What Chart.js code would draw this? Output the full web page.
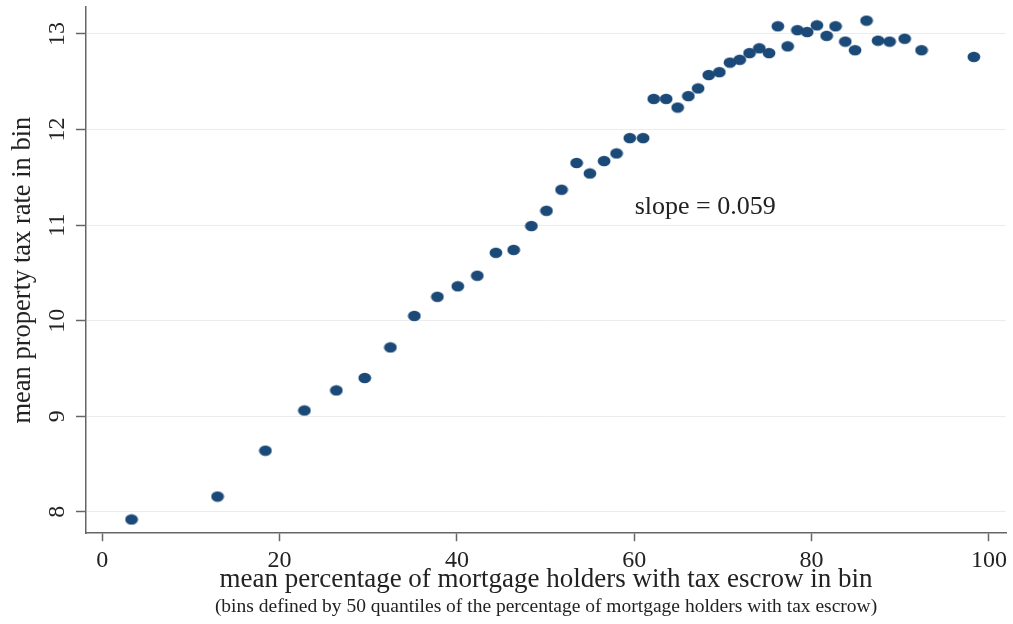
<!DOCTYPE html>
<html lang="en">
<head>
    <meta charset="utf-8"/>
    <title>Property tax rate vs tax escrow</title>
    <style>
        * {
          padding: 0;
          margin: 0;
          box-sizing: border-box;
        }

        body {
            background: #ffffff;
        }

        .container {
          width: 1013px;
          height: 624px;
        }
    </style>
</head>
<body>
    <div class="container">
        <canvas id="data-set" width="1013" height="624"></canvas>
    </div>
    <script src="https://cdn.jsdelivr.net/npm/chart.js@4.4.0/dist/chart.umd.min.js"></script>
    <script>
        // mean percentage of mortgage holders with tax escrow (per bin)
        const escrowPct = [
            3.3, 13.0, 18.4, 22.8, 26.4, 29.6, 32.5, 35.2, 37.8, 40.1,
            42.3, 44.4, 46.4, 48.4, 50.1, 51.8, 53.5, 55.0, 56.6, 58.0,
            59.5, 61.0, 62.2, 63.6, 64.9, 66.1, 67.2, 68.4, 69.6, 70.8,
            71.9, 73.0, 74.1, 75.2, 76.2, 77.3, 78.4, 79.5, 80.6, 81.7,
            82.7, 83.8, 84.9, 86.2, 87.5, 88.8, 90.5, 92.4, 98.3
        ];
        // mean property tax rate (per bin)
        const taxRate = [
            7.92, 8.16, 8.64, 9.06, 9.27, 9.40, 9.72, 10.05, 10.25, 10.36,
            10.47, 10.71, 10.74, 10.99, 11.15, 11.37, 11.65, 11.54, 11.67, 11.75,
            11.91, 11.91, 12.32, 12.32, 12.23, 12.35, 12.43, 12.57, 12.60, 12.70,
            12.73, 12.80, 12.85, 12.80, 13.08, 12.87, 13.04, 13.02, 13.09, 12.98,
            13.08, 12.92, 12.83, 13.14, 12.93, 12.92, 12.95, 12.83, 12.76
        ];

        const xTicks = [0, 20, 40, 60, 80, 100];
        const yTicks = [8, 9, 10, 11, 12, 13];

        const slopeText = "slope = 0.059";
        const slopeAt = { x: 68, y: 11.19 };

        const xTitle = "mean percentage of mortgage holders with tax escrow in bin";
        const xNote = "(bins defined by 50 quantiles of the percentage of mortgage holders with tax escrow)";
        const yTitle = "mean property tax rate in bin";

        const serif = "'Liberation Serif', 'DejaVu Serif', serif";
        const dotColor = "#1b4a78";
        const axisColor = "#666666";

        // slightly flattened dots like the original
        function makeDot() {
            const c = document.createElement("canvas");
            c.width = 14;
            c.height = 12;
            const g = c.getContext("2d");
            g.fillStyle = dotColor;
            g.beginPath();
            g.ellipse(7, 6, 6.4, 5.2, 0, 0, Math.PI * 2);
            g.fill();
            return c;
        }

        const points = escrowPct.map((x, i) => ({ x: x, y: taxRate[i] }));

        const slopeLabel = {
            id: "slopeLabel",
            afterDatasetsDraw(chart) {
                const ctx = chart.ctx;
                const px = chart.scales.x.getPixelForValue(slopeAt.x);
                const py = chart.scales.y.getPixelForValue(slopeAt.y);
                ctx.save();
                ctx.font = "26px " + serif;
                ctx.fillStyle = "#222222";
                ctx.textAlign = "center";
                ctx.textBaseline = "middle";
                ctx.fillText(slopeText, px, py);
                ctx.restore();
            }
        };

        const context = document.getElementById("data-set").getContext("2d");
        const chart = new Chart(context, {
            type: 'scatter',
            data: {
                datasets: [
                    {
                        label: "bins",
                        data: points,
                        pointStyle: makeDot(),
                        pointRadius: 6,
                        pointHoverRadius: 6
                    }
                ]
            },
            options: {
                responsive: false,
                animation: false,
                layout: {
                    padding: { top: 6, right: 5, left: 0, bottom: 0 }
                },
                scales: {
                    x: {
                        type: 'linear',
                        min: -1.835,
                        max: 101.93,
                        afterBuildTicks: (scale) => {
                            scale.ticks = xTicks.map(v => ({ value: v }));
                        },
                        afterFit: (scale) => {
                            scale.height = 62.4;
                            scale.paddingLeft = 0;
                            scale.paddingRight = 0;
                        },
                        border: {
                            display: true,
                            color: axisColor,
                            width: 1.5
                        },
                        grid: {
                            drawOnChartArea: false,
                            tickLength: 8,
                            tickColor: axisColor,
                            tickWidth: 1.5
                        },
                        ticks: {
                            color: '#222222',
                            padding: 5,
                            maxRotation: 0,
                            font: { family: serif, size: 24 }
                        },
                        title: {
                            display: true,
                            text: xTitle,
                            color: '#222222',
                            font: { family: serif, size: 27, lineHeight: 1 },
                            padding: { top: 0, bottom: 2.4 }
                        }
                    },
                    y: {
                        type: 'linear',
                        min: 7.776,
                        max: 13.282,
                        afterBuildTicks: (scale) => {
                            scale.ticks = yTicks.map(v => ({ value: v }));
                        },
                        afterFit: (scale) => {
                            scale.width = 86;
                            scale.paddingTop = 0;
                            scale.paddingBottom = 0;
                        },
                        border: {
                            display: true,
                            color: axisColor,
                            width: 1.5
                        },
                        grid: {
                            color: '#ececec',
                            lineWidth: 1,
                            tickLength: 10,
                            tickColor: axisColor,
                            tickWidth: 1.5
                        },
                        ticks: {
                            color: '#222222',
                            padding: 6,
                            minRotation: 90,
                            maxRotation: 90,
                            crossAlign: 'center',
                            font: { family: serif, size: 24 }
                        },
                        title: {
                            display: true,
                            text: yTitle,
                            color: '#222222',
                            font: { family: serif, size: 26.5, lineHeight: 1.2 },
                            padding: { top: 7, bottom: 0 }
                        }
                    }
                },
                plugins: {
                    legend: { display: false },
                    tooltip: { enabled: false },
                    subtitle: {
                        display: true,
                        text: xNote,
                        position: 'bottom',
                        fullSize: false,
                        color: '#222222',
                        font: { family: serif, size: 19.5, weight: 'normal', lineHeight: 1.2 },
                        padding: { top: 0, bottom: 5 }
                    }
                }
            },
            plugins: [slopeLabel]
        });
    </script>
</body>
</html>
